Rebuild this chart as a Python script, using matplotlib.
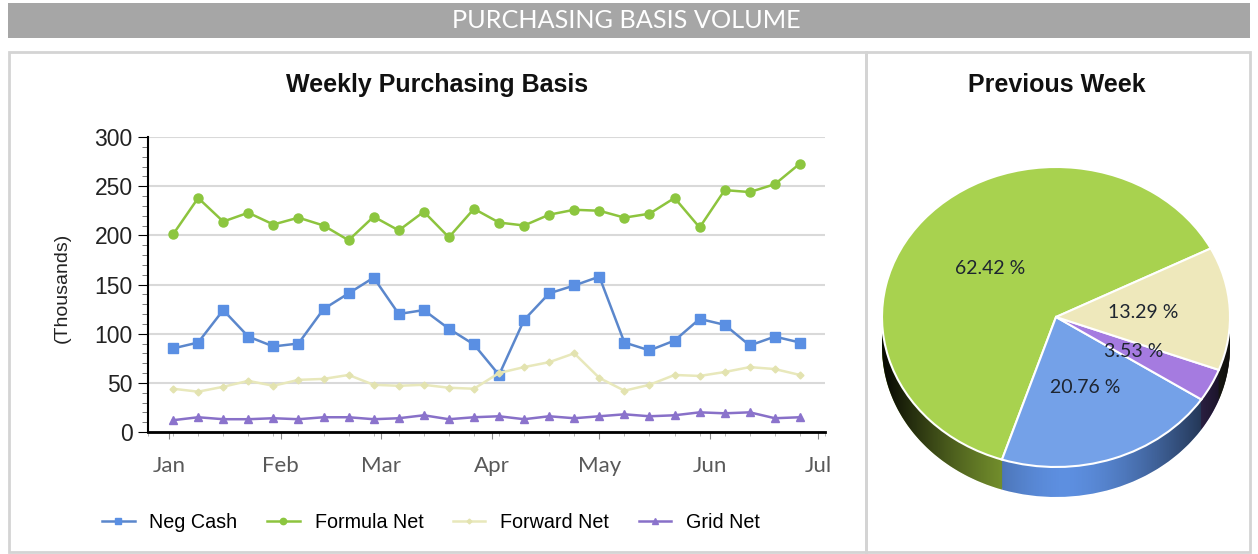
import matplotlib
matplotlib.use('Agg')
import matplotlib.pyplot as plt
import matplotlib.dates as mdates
from matplotlib.patches import Rectangle, Polygon
from matplotlib.ticker import MultipleLocator
import numpy as np
import pandas as pd

# weekly data (thousands)
weeks = pd.date_range('2017-01-02', periods=26, freq='7D')
neg_cash = [85, 91, 124, 97, 87, 90, 125, 141, 157, 120, 124, 105, 89,
            58, 114, 141, 149, 158, 91, 83, 93, 115, 109, 88, 97, 91]
formula_net = [201, 238, 214, 223, 211, 218, 210, 195, 219, 205, 224, 198, 227,
               213, 210, 221, 226, 225, 218, 222, 238, 208, 246, 244, 252, 273]
forward_net = [44, 41, 46, 52, 47, 53, 54, 58, 48, 47, 48, 45, 44,
               60, 66, 71, 80, 55, 42, 48, 58, 57, 61, 66, 64, 58]
grid_net = [12, 15, 13, 13, 14, 13, 15, 15, 13, 14, 17, 13, 15,
            16, 13, 16, 14, 16, 18, 16, 17, 20, 19, 20, 14, 15]

# previous week split (%)
pie_labels = ['Formula Net', 'Neg Cash', 'Grid Net', 'Forward Net']
pie_values = [62.42, 20.76, 3.53, 13.29]

W, H = 1258, 554
fig = plt.figure(figsize=(W / 100, H / 100), dpi=100)
fig.patch.set_facecolor('white')


def fx(px):
    return px / W


def fy(py):
    return (H - py) / H


# header bar
fig.add_artist(Rectangle((fx(8), fy(38)), fx(1242), 35 / H, transform=fig.transFigure,
                         facecolor='#a6a6a6', edgecolor='none'))
fig.text(fx(626), fy(21), 'PURCHASING BASIS VOLUME', color='white', fontsize=18.2,
         family='Lato', ha='center', va='center')

# panels
fig.add_artist(Rectangle((fx(9), fy(552)), fx(857), 500 / H, transform=fig.transFigure,
                         facecolor='none', edgecolor='#d4d4d4', lw=2))
fig.add_artist(Rectangle((fx(866), fy(552)), fx(384), 500 / H, transform=fig.transFigure,
                         facecolor='none', edgecolor='#d4d4d4', lw=2))

# ---- line chart ----
ax = fig.add_axes([fx(148), fy(432), fx(825 - 148), 295 / H])
ax.plot(weeks, neg_cash, color='#5b87cc', lw=1.8, marker='s', ms=6.5,
        mfc='#5a8fe3', mec='#5a8fe3', label='Neg Cash')
ax.plot(weeks, formula_net, color='#8dc43e', lw=1.8, marker='o', ms=6.5,
        mfc='#8cc63f', mec='#8cc63f', label='Formula Net')
ax.plot(weeks, forward_net, color='#e8e8bb', lw=1.8, marker='D', ms=3.5,
        mfc='#e3e3b0', mec='#e3e3b0', label='Forward Net')
ax.plot(weeks, grid_net, color='#8870c8', lw=1.8, marker='^', ms=6,
        mfc='#8b73cc', mec='#8b73cc', label='Grid Net')

ax.set_ylim(0, 300)
ax.set_xlim(pd.Timestamp('2016-12-26'), pd.Timestamp('2017-07-03'))
ax.yaxis.set_major_locator(MultipleLocator(50))
ax.yaxis.set_minor_locator(MultipleLocator(10))
ax.xaxis.set_major_locator(mdates.MonthLocator())
ax.xaxis.set_major_formatter(mdates.DateFormatter('%b'))
ax.xaxis.set_minor_locator(mdates.WeekdayLocator(byweekday=mdates.MO))
ax.grid(axis='y', color='#d9d9d9', lw=1.5)
ax.set_axisbelow(True)
for s in ['top', 'right']:
    ax.spines[s].set_visible(False)
ax.spines['left'].set_linewidth(1.5)
ax.spines['bottom'].set_linewidth(2)
ax.tick_params(axis='y', which='major', length=7, labelsize=16.5, pad=4,
               labelcolor='#222222')
ax.tick_params(axis='y', which='minor', length=4, color='#666666')
ax.tick_params(axis='x', which='major', length=5, pad=12, labelsize=16,
               labelcolor='#595959', color='#888888')
ax.tick_params(axis='x', which='minor', length=3, color='#aaaaaa')
for t in ax.get_yticklabels():
    t.set_family('Liberation Sans')
for t in ax.get_xticklabels():
    t.set_family('Lato')

fig.text(fx(62), fy(288), '(Thousands)', rotation=90, ha='center', va='center',
         fontsize=14, family='Liberation Sans', color='#222222')
fig.text(fx(437), fy(85), 'Weekly Purchasing Basis', ha='center', va='center',
         fontsize=18, fontweight='bold', family='Liberation Sans', color='#111111')

fig.legend(loc='center', bbox_to_anchor=(fx(431), fy(522)), ncol=4, frameon=False,
           prop={'family': 'Liberation Sans', 'size': 14.2}, handlelength=1.65,
           columnspacing=1.5, handletextpad=0.75, markerscale=0.7)

# ---- pie chart (pseudo 3D) ----
top_colors = ['#a8d24f', '#74a1e8', '#a57be0', '#eee8bb']
side_colors = ['#8aab35', '#5d8fe0', '#6b4fa5', '#5a5948']
rx, ry = 174, 150
cx, cy = 1056, 317
ax2 = fig.add_axes([fx(cx - rx * 1.2), fy(cy + ry * 1.5), fx(rx * 2.4), ry * 3.0 / H])
depth = 0.2
n_layers = 30
start = 27.2
for i in range(n_layers, 0, -1):
    ax2.pie(pie_values, colors=side_colors, startangle=start, counterclock=True,
            center=(0, -depth * i / n_layers), wedgeprops={'linewidth': 0})

# cylinder shading over the side band
th = np.linspace(np.pi, 2 * np.pi, 200)
band = np.vstack([np.column_stack([np.cos(th), np.sin(th)]),
                  np.column_stack([np.cos(th[::-1]), np.sin(th[::-1]) - depth])])
clip = Polygon(band, closed=True, facecolor='none', edgecolor='none',
               transform=ax2.transData)
ax2.add_patch(clip)
gx = np.linspace(-1.2, 1.2, 300)
alpha = np.clip(0.9 * np.abs(gx - 0.05) ** 1.6, 0, 0.93)
shade = np.zeros((1, gx.size, 4))
shade[0, :, 3] = alpha
im = ax2.imshow(shade, extent=(-1.2, 1.2, -1.5, 1.5), aspect='auto',
                interpolation='bilinear', zorder=2)
im.set_clip_path(clip)

wedges, texts, autotexts = ax2.pie(
    pie_values, colors=top_colors, startangle=start, counterclock=True,
    autopct='%.2f %%', pctdistance=0.5,
    wedgeprops={'linewidth': 1.5, 'edgecolor': 'white', 'zorder': 3},
    textprops={'family': 'Lato', 'size': 14, 'color': '#1e2530', 'zorder': 4})
ax2.set_aspect('auto')
ax2.set_xlim(-1.2, 1.2)
ax2.set_ylim(-1.5, 1.5)
ax2.axis('off')

fig.text(fx(1057), fy(85), 'Previous Week', ha='center', va='center',
         fontsize=18, fontweight='bold', family='Liberation Sans', color='#111111')

fig.savefig('out.png', dpi=100)
